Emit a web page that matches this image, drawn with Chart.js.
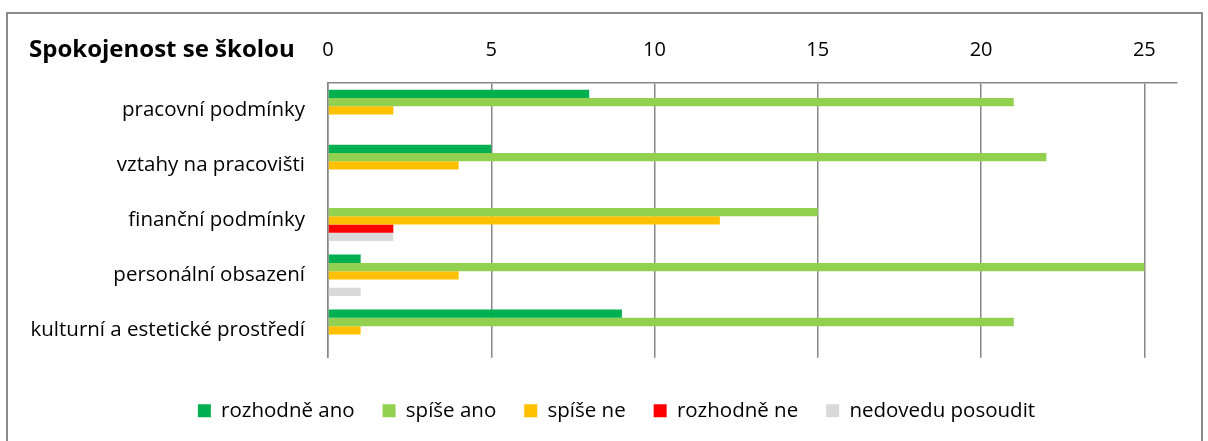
<!DOCTYPE html>
<html>
<head>
<meta charset="utf-8">
<script src="https://cdn.jsdelivr.net/npm/chart.js@4"></script>
<style>
  html, body { margin: 0; padding: 0; background: #fff; }
  #wrap { position: relative; width: 1208px; height: 441px; overflow: hidden; }
  #frame { position: absolute; left: 6px; top: 12px; width: 1193px; height: 460px; border: 2px solid #8a8a8a; }
  canvas { position: absolute; left: 0; top: 0; }
</style>
</head>
<body>
<div id="wrap">
  <div id="frame"></div>
  <canvas id="chart" width="1208" height="441"></canvas>
</div>
<script>
const title = 'Spokojenost se školou';
const categories = ['pracovní podmínky', 'vztahy na pracovišti', 'finanční podmínky', 'personální obsazení', 'kulturní a estetické prostředí'];
const rozhodneAno = [8, 5, 0, 1, 9];
const spiseAno = [21, 22, 15, 25, 21];
const spiseNe = [2, 4, 12, 4, 1];
const rozhodneNe = [0, 0, 2, 0, 0];
const nedovedu = [0, 0, 2, 1, 0];
const xTicks = [0, 5, 10, 15, 20, 25];

const font = '"Open Sans"';
const gridColor = '#878787';

// title sits left of the top axis labels, like in the original
const titlePlugin = {
  id: 'leftTitle',
  afterLayout(chart) {
    // legend in the original is centred a bit right of the canvas middle
    chart.legend.left += 28;
    chart.legend.right += 28;
  },
  afterDraw(chart) {
    const ctx = chart.ctx;
    ctx.save();
    ctx.font = 'bold 24px ' + font;
    ctx.fillStyle = '#000';
    ctx.textBaseline = 'middle';
    ctx.fillText(title, 29, 50);
    ctx.restore();
  }
};

const ctx = document.getElementById('chart').getContext('2d');
new Chart(ctx, {
  type: 'bar',
  data: {
    labels: categories,
    datasets: [
      {label: 'rozhodně ano', data: rozhodneAno, backgroundColor: '#00B050'},
      {label: 'spíše ano', data: spiseAno, backgroundColor: '#92D050'},
      {label: 'spíše ne', data: spiseNe, backgroundColor: '#FFC000'},
      {label: 'rozhodně ne', data: rozhodneNe, backgroundColor: '#FF0000'},
      {label: 'nedovedu posoudit', data: nedovedu, backgroundColor: '#D9D9D9'}
    ]
  },
  options: {
    indexAxis: 'y',
    responsive: false,
    animation: false,
    barPercentage: 1,
    categoryPercentage: 0.755,
    layout: {padding: {left: 0, right: 31, top: 0, bottom: 10}},
    scales: {
      x: {
        position: 'top',
        min: 0,
        max: 26,
        afterBuildTicks: s => { s.ticks = xTicks.map(v => ({value: v})); },
        afterFit: s => { s.height = 83; },
        grid: {color: gridColor, lineWidth: 1.5, drawTicks: false},
        border: {display: true, color: gridColor, width: 1.5},
        ticks: {color: '#000', font: {family: font, size: 20}, padding: 21}
      },
      y: {
        afterFit: s => { s.width = 328; },
        grid: {display: false, drawTicks: false},
        border: {display: true, color: gridColor, width: 1.5},
        ticks: {color: '#000', font: {family: font, size: 20.5}, padding: 23}
      }
    },
    plugins: {
      legend: {
        position: 'bottom',
        title: {display: true, text: '', font: {size: 1, lineHeight: 1}, padding: {top: 13.75, bottom: 0}},
        labels: {color: '#000', font: {family: font, size: 20.5}, boxWidth: 13, boxHeight: 13, padding: 28}
      },
      tooltip: {enabled: false}
    }
  },
  plugins: [titlePlugin]
});
</script>
</body>
</html>
